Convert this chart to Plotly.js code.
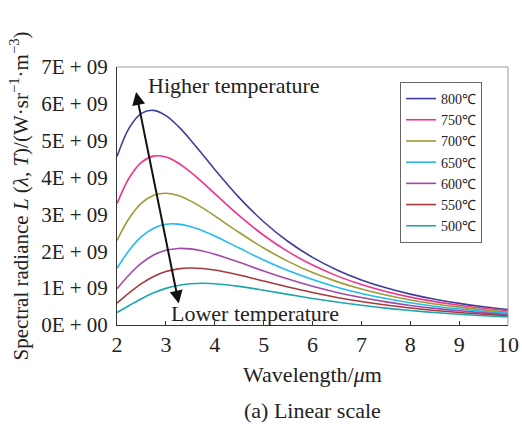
<!DOCTYPE html>
<html>
<head>
<meta charset="utf-8">
<script src="https://cdn.plot.ly/plotly-3.0.1.min.js"></script>
<style>html,body{margin:0;padding:0;background:#fff;}#chart{width:522px;height:424px;}</style>
</head>
<body>
<div id="chart"></div>
<script>
// Wavelength (µm)
const wavelength = [2, 2.25, 2.5, 2.75, 3, 3.25, 3.5, 3.75, 4, 4.5, 5, 5.5, 6, 6.5, 7, 7.5, 8, 8.5, 9, 9.5, 10];
// Spectral radiance, in units of 1E+09 W·sr^-1·m^-3
const r800 = [4.570, 5.349, 5.743, 5.824, 5.681, 5.395, 5.029, 4.628, 4.221, 3.456, 2.801, 2.265, 1.836, 1.495, 1.224, 1.009, 0.837, 0.699, 0.587, 0.496, 0.422];
const r750 = [3.292, 3.995, 4.415, 4.582, 4.556, 4.397, 4.155, 3.868, 3.564, 2.966, 2.435, 1.990, 1.626, 1.333, 1.098, 0.909, 0.757, 0.635, 0.535, 0.454, 0.387];
const r700 = [2.294, 2.896, 3.304, 3.518, 3.574, 3.511, 3.368, 3.177, 2.960, 2.509, 2.090, 1.727, 1.424, 1.177, 0.975, 0.812, 0.680, 0.572, 0.484, 0.411, 0.352];
const r650 = [1.537, 2.028, 2.396, 2.627, 2.732, 2.738, 2.671, 2.556, 2.412, 2.087, 1.766, 1.478, 1.232, 1.027, 0.857, 0.718, 0.604, 0.511, 0.434, 0.370, 0.317];
const r600 = [0.983, 1.364, 1.676, 1.897, 2.026, 2.076, 2.065, 2.008, 1.921, 1.702, 1.466, 1.245, 1.050, 0.884, 0.744, 0.628, 0.531, 0.451, 0.385, 0.330, 0.284];
const r550 = [0.596, 0.874, 1.123, 1.317, 1.450, 1.523, 1.548, 1.533, 1.491, 1.355, 1.192, 1.029, 0.880, 0.748, 0.636, 0.541, 0.461, 0.394, 0.338, 0.291, 0.251];
const r500 = [0.339, 0.529, 0.714, 0.873, 0.994, 1.074, 1.118, 1.131, 1.120, 1.049, 0.945, 0.831, 0.721, 0.622, 0.534, 0.458, 0.393, 0.339, 0.292, 0.253, 0.219];
const seriesNames = ["800℃", "750℃", "700℃", "650℃", "600℃", "550℃", "500℃"];
const seriesValues = [r800, r750, r700, r650, r600, r550, r500];
const seriesColors = ["#3d3f9b", "#f0338f", "#a09a35", "#22bbee", "#a04aa8", "#a8393a", "#1fa5ad"];
const yTickVals = [0, 1e9, 2e9, 3e9, 4e9, 5e9, 6e9, 7e9];
const yTickText = ["0E + 00", "1E + 09", "2E + 09", "3E + 09", "4E + 09", "5E + 09", "6E + 09", "7E + 09"];
const xTickVals = [2, 3, 4, 5, 6, 7, 8, 9, 10];

const FONT = "Liberation Serif, Times New Roman, serif";

const traces = seriesNames.map((name, i) => ({
  type: "scatter",
  mode: "lines",
  name: name,
  x: wavelength,
  y: seriesValues[i].map(v => v * 1e9),
  line: {color: seriesColors[i], width: 1.6, shape: "spline", smoothing: 1},
  hoverinfo: "skip"
}));

const layout = {
  width: 522,
  height: 424,
  margin: {l: 117, r: 14, t: 67, b: 99},
  paper_bgcolor: "#fff",
  plot_bgcolor: "#fff",
  font: {family: FONT, size: 21, color: "#222"},
  showlegend: true,
  legend: {
    x: 0.724, y: 0.942, xanchor: "left", yanchor: "top",
    bordercolor: "#666", borderwidth: 1, bgcolor: "#fff",
    font: {family: FONT, size: 14, color: "#222"},
    itemwidth: 30, tracegroupgap: 0
  },
  xaxis: {
    range: [2, 10],
    tickvals: xTickVals,
    ticks: "inside", ticklen: 4, tickcolor: "#333", tickwidth: 1,
    showline: true, linecolor: "#333", linewidth: 1, mirror: false,
    showgrid: false, zeroline: false,
    tickfont: {family: FONT, size: 22, color: "#222"},
    title: {text: "Wavelength/<i>μ</i>m", font: {family: FONT, size: 22, color: "#222"}, standoff: 10}
  },
  yaxis: {
    range: [0, 7e9],
    tickvals: yTickVals, ticktext: yTickText,
    ticks: "", ticklabelstandoff: 4,
    showline: true, linecolor: "#333", linewidth: 1, mirror: false,
    showgrid: false, zeroline: false,
    tickfont: {family: FONT, size: 21, color: "#222"},
    title: {text: "Spectral radiance <i>L</i> (<i>λ</i>, <i>T</i>)/(W·sr<sup>−1</sup>·m<sup>−3</sup>)", font: {family: FONT, size: 21, color: "#222"}, standoff: 6}
  },
  shapes: [
    {type: "line", xref: "paper", yref: "paper", x0: 0, x1: 1, y0: 1, y1: 1, line: {color: "#999", width: 1}},
    {type: "line", xref: "paper", yref: "paper", x0: 1, x1: 1, y0: 0, y1: 1, line: {color: "#999", width: 1}}
  ],
  annotations: [
    {x: 2.39, y: 6.32e9, ax: 3.27, ay: 0.54e9, xref: "x", yref: "y", axref: "x", ayref: "y",
     text: "", showarrow: true, arrowhead: 2, startarrowhead: 2, arrowside: "end+start",
     arrowsize: 1.3, startarrowsize: 1.3, arrowwidth: 2, arrowcolor: "#111"},
    {x: 4.39, y: 6.51e9, xref: "x", yref: "y", text: "Higher temperature", showarrow: false,
     font: {family: FONT, size: 22, color: "#222"}},
    {x: 4.82, y: 0.30e9, xref: "x", yref: "y", text: "Lower temperature", showarrow: false,
     font: {family: FONT, size: 22, color: "#222"}},
    {x: 0.5, y: -0.33, xref: "paper", yref: "paper", yanchor: "middle", xanchor: "center",
     text: "(a) Linear scale", showarrow: false,
     font: {family: FONT, size: 22, color: "#222"}}
  ]
};

Plotly.newPlot("chart", traces, layout, {displayModeBar: false, staticPlot: true});
</script>
</body>
</html>
